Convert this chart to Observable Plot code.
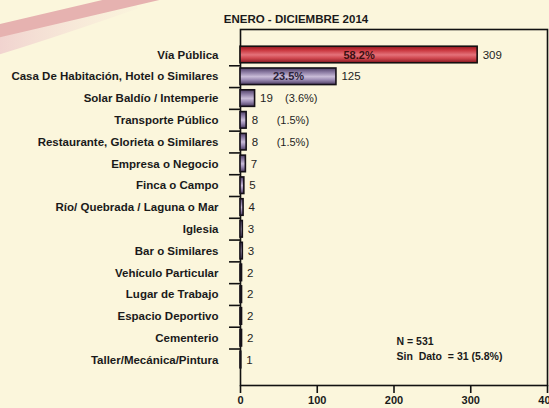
<!DOCTYPE html>
<html>
<head>
<meta charset="utf-8">
<script src="https://cdn.jsdelivr.net/npm/d3@7"></script>
<script src="https://cdn.jsdelivr.net/npm/@observablehq/plot@0.6"></script>
<style>
  html, body { margin: 0; padding: 0; background: #FBF6DC; }
  #chart { width: 549px; height: 408px; overflow: hidden; }
</style>
</head>
<body>
<div id="chart"></div>
<script>
const title = "ENERO - DICIEMBRE 2014";
const categories = [
  "Vía Pública",
  "Casa De Habitación, Hotel o Similares",
  "Solar Baldío / Intemperie",
  "Transporte Público",
  "Restaurante, Glorieta o Similares",
  "Empresa o Negocio",
  "Finca o Campo",
  "Río/ Quebrada / Laguna o Mar",
  "Iglesia",
  "Bar o Similares",
  "Vehículo Particular",
  "Lugar de Trabajo",
  "Espacio Deportivo",
  "Cementerio",
  "Taller/Mecánica/Pintura"
];
const values = [309, 125, 19, 8, 8, 7, 5, 4, 3, 3, 2, 2, 2, 2, 1];
const percents = [58.2, 23.5, 3.6, 1.5, 1.5];
const xTicks = [0, 100, 200, 300, 400];
const noteLines = ["N = 531", "Sin\u00a0\u00a0Dato\u00a0\u00a0= 31 (5.8%)"];

const data = categories.map((c, i) => ({cat: c, value: values[i], pct: percents[i]}));
const inside = data.slice(0, 2);
const outside = data.slice(2, percents.length);

const plot = Plot.plot({
  width: 549,
  height: 408,
  marginLeft: 240,
  marginRight: 2,
  marginTop: 29,
  marginBottom: 23,
  style: {background: "#FBF6DC", fontFamily: "Liberation Sans, Arial, sans-serif", color: "#1a1a1a"},
  x: {domain: [0, 400], axis: null},
  y: {domain: categories, paddingInner: 0.24, paddingOuter: 0.79, round: false, axis: null},
  marks: [
    Plot.frame({stroke: "#111", strokeWidth: 1.6}),
    Plot.axisX({ticks: xTicks, tickSize: 8, tickPadding: 3, fontSize: 11, fontWeight: "bold", strokeWidth: 1.6, stroke: "#111", label: null}),
    Plot.axisY({tickSize: 0, tickPadding: 22, fontSize: 11.5, fontWeight: "bold", label: null}),
    Plot.ruleY(categories.slice(1), {y: d => d, dy: -11, x1: -14.3, x2: 0, stroke: "#111", strokeWidth: 1.6, clip: false}),
    Plot.barX(data.slice(0, 1), {x: "value", y: "cat", fill: "url(#gRed)", stroke: "#151010", strokeWidth: 1.6}),
    Plot.barX(data.slice(1), {x: "value", y: "cat", fill: "url(#gPurple)", stroke: "#151018", strokeWidth: 1.6}),
    Plot.text(data, {x: "value", y: "cat", text: d => String(d.value), dx: 5, textAnchor: "start", fontSize: 11.5, fill: "#1e1e1e"}),
    Plot.text(inside, {x: d => d.value / 2, y: "cat", text: d => d.pct.toFixed(1) + "%", fontSize: 11, fontWeight: "bold", fill: d => d.cat === categories[0] ? "#3a1012" : "#2a2238"}),
    Plot.text(outside, {x: "value", y: "cat", text: d => "(" + d.pct.toFixed(1) + "%)", dx: 30, textAnchor: "start", fontSize: 11, fill: "#1e1e1e"}),
    Plot.text([title], {text: d => d, frameAnchor: "top", dx: -98, dy: -15, fontSize: 11.5, fontWeight: "bold", fill: "#1a1a1a"}),
    Plot.text([noteLines[0]], {text: d => d, frameAnchor: "bottom-left", dx: 156, dy: -41, textAnchor: "start", fontSize: 10.5, fontWeight: "bold", fill: "#1a1a1a"}),
    Plot.text([noteLines[1]], {text: d => d, frameAnchor: "bottom-left", dx: 156, dy: -26, textAnchor: "start", fontSize: 10.5, fontWeight: "bold", fill: "#1a1a1a"})
  ]
});

plot.insertAdjacentHTML("afterbegin", `
<defs>
  <linearGradient id="gRed" x1="0" y1="0" x2="0" y2="1">
    <stop offset="0" stop-color="#8e1a22"/>
    <stop offset="0.22" stop-color="#c8323a"/>
    <stop offset="0.52" stop-color="#e4727a"/>
    <stop offset="0.72" stop-color="#d04850"/>
    <stop offset="1" stop-color="#881820"/>
  </linearGradient>
  <linearGradient id="gPurple" x1="0" y1="0" x2="0" y2="1">
    <stop offset="0" stop-color="#4e3f66"/>
    <stop offset="0.25" stop-color="#8a7aa2"/>
    <stop offset="0.52" stop-color="#c9bcd8"/>
    <stop offset="0.72" stop-color="#9a8ab2"/>
    <stop offset="1" stop-color="#4a3a60"/>
  </linearGradient>
  <linearGradient id="gSwoosh" x1="0" y1="0" x2="1" y2="0">
    <stop offset="0" stop-color="#f0d0ce"/>
    <stop offset="1" stop-color="#f6e6da" stop-opacity="0.2"/>
  </linearGradient>
</defs>
<g class="swoosh">
  <path d="M -10 48 Q 55 28 135 0" fill="none" stroke="url(#gSwoosh)" stroke-width="18"/>
  <path d="M -10 33 Q 80 12 165 -8" fill="none" stroke="#e6b2b0" stroke-width="13"/>
</g>`);
document.getElementById("chart").appendChild(plot);
</script>
</body>
</html>
